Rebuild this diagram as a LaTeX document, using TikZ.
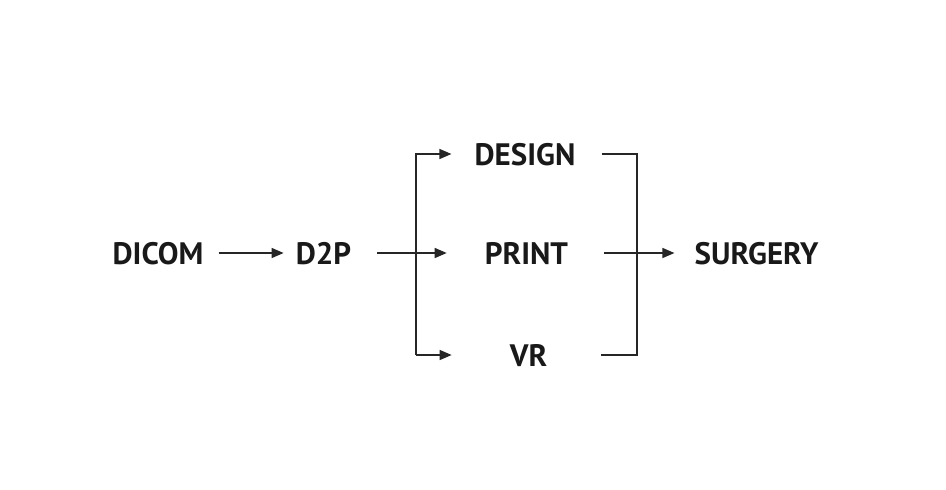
\documentclass[tikz,border=0pt]{standalone}
\usepackage{fontspec}
\setmainfont{PT Sans}
\usetikzlibrary{arrows.meta}
\begin{document}
\begin{tikzpicture}[x=1pt,y=-1pt,
  lbl/.style={inner sep=0pt,text depth=0pt,font=\fontsize{31}{31}\selectfont\bfseries,text=black!90},
  line/.style={draw=black!85,line width=1.3pt},
  arr/.style={line,-{Triangle[length=12pt,width=10pt]}}]
\useasboundingbox[fill=white] (0,0) rectangle (946,490);
\node[lbl] (dicom) at (158,253) {DICOM};
\node[lbl] (d2p) at (323.5,253) {D2P};
\node[lbl] (design) at (525,154) {DESIGN};
\node[lbl] (print) at (526.5,253) {PRINT};
\node[lbl] (vr) at (528.5,355) {VR};
\node[lbl] (surgery) at (756.5,253) {SURGERY};
\coordinate (split) at (416,253);
\coordinate (join) at (637,253);
\draw[arr] ([xshift=15pt]dicom.east) -- ([xshift=-12pt]d2p.west);
\draw[arr] ([xshift=26pt]d2p.east) -- ([xshift=-38pt]print.west);
\draw[arr] (split |- vr.west) -- (split |- design.west) -- ([xshift=-23pt]design.west);
\draw[arr] (split |- vr.west) -- ([xshift=-58pt]vr.west);
\draw[line] ([xshift=26pt]design.east) -| (join |- vr.east) -- ([xshift=54pt]vr.east);
\draw[arr] ([xshift=36pt]print.east) -- ([xshift=-20pt]surgery.west);
\end{tikzpicture}
\end{document}
